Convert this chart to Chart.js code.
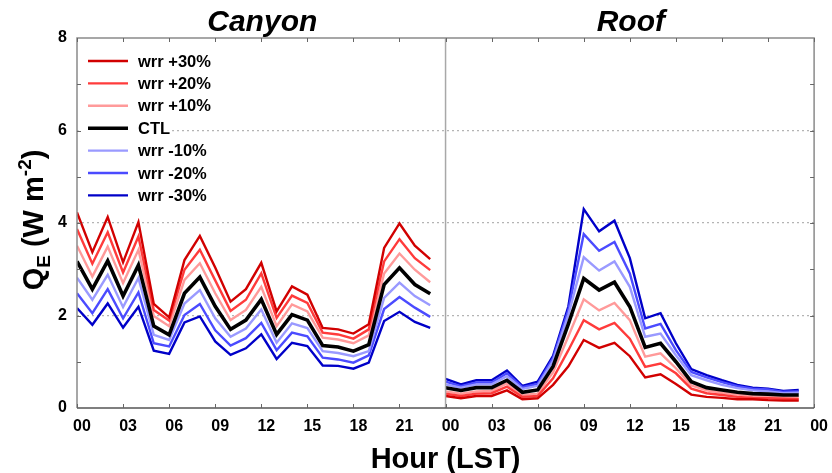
<!DOCTYPE html>
<html>
<head>
<meta charset="utf-8">
<script src="https://cdn.jsdelivr.net/npm/chart.js@4/dist/chart.umd.min.js"></script>
<style>
  html, body { margin: 0; padding: 0; background: #fff; }
  canvas { display: block; }
</style>
</head>
<body>
<canvas id="c" width="832" height="473"></canvas>
<script>
// ---------- data ----------
const hours = [0,1,2,3,4,5,6,7,8,9,10,11,12,13,14,15,16,17,18,19,20,21,22,23];
const panels = ['Canyon', 'Roof'];
const seriesLabels = ['wrr +30%', 'wrr +20%', 'wrr +10%', 'CTL', 'wrr -10%', 'wrr -20%', 'wrr -30%'];
const yTicks = [0, 2, 4, 6, 8];
const xTickStep = 3;

const canyonP30 = [4.23,3.37,4.13,3.15,4.02,2.25,1.96,3.20,3.72,3.04,2.30,2.57,3.14,2.09,2.63,2.45,1.73,1.70,1.61,1.81,3.46,3.99,3.51,3.22];
const canyonP20 = [3.87,3.12,3.80,2.93,3.71,2.12,1.89,2.99,3.42,2.76,2.10,2.34,2.91,1.95,2.43,2.27,1.63,1.59,1.50,1.70,3.17,3.65,3.24,2.98];
const canyonP10 = [3.51,2.84,3.49,2.70,3.42,1.99,1.77,2.77,3.13,2.48,1.90,2.12,2.62,1.77,2.24,2.09,1.52,1.48,1.40,1.57,2.91,3.34,2.99,2.72];
const canyonCTL = [3.17,2.57,3.18,2.42,3.09,1.77,1.58,2.48,2.83,2.20,1.70,1.90,2.35,1.59,2.02,1.90,1.35,1.32,1.23,1.37,2.67,3.03,2.67,2.47];
const canyonM10 = [2.82,2.34,2.88,2.18,2.81,1.58,1.47,2.26,2.55,1.94,1.54,1.72,2.13,1.41,1.83,1.73,1.23,1.19,1.12,1.23,2.38,2.71,2.42,2.22];
const canyonM20 = [2.48,2.05,2.57,1.94,2.50,1.40,1.33,2.01,2.25,1.68,1.35,1.51,1.84,1.25,1.63,1.55,1.09,1.05,0.98,1.14,2.14,2.40,2.17,1.97];
const canyonM30 = [2.16,1.80,2.26,1.74,2.19,1.24,1.17,1.85,1.98,1.44,1.15,1.29,1.59,1.06,1.41,1.34,0.92,0.91,0.85,0.98,1.88,2.08,1.86,1.73];

const roofP30 = [0.26,0.21,0.26,0.26,0.38,0.19,0.21,0.50,0.90,1.47,1.30,1.41,1.12,0.66,0.73,0.52,0.29,0.24,0.22,0.19,0.19,0.17,0.16,0.16];
const roofP20 = [0.31,0.26,0.31,0.32,0.46,0.24,0.26,0.64,1.25,1.90,1.70,1.84,1.50,0.89,0.96,0.75,0.42,0.32,0.28,0.24,0.22,0.21,0.20,0.19];
const roofP10 = [0.36,0.31,0.36,0.37,0.53,0.28,0.31,0.77,1.55,2.35,2.11,2.27,1.90,1.11,1.18,0.86,0.49,0.38,0.33,0.29,0.26,0.25,0.23,0.23];
const roofCTL = [0.44,0.38,0.44,0.44,0.60,0.34,0.39,0.90,1.82,2.80,2.55,2.72,2.19,1.31,1.40,1.00,0.57,0.44,0.39,0.34,0.31,0.30,0.28,0.28];
const roofM10 = [0.51,0.44,0.51,0.51,0.69,0.41,0.48,1.02,2.02,3.26,2.97,3.17,2.62,1.54,1.61,1.14,0.71,0.60,0.50,0.43,0.38,0.36,0.32,0.33];
const roofM20 = [0.57,0.47,0.55,0.55,0.75,0.45,0.52,1.08,2.12,3.76,3.40,3.59,2.91,1.72,1.82,1.25,0.78,0.66,0.56,0.47,0.42,0.40,0.35,0.36];
const roofM30 = [0.63,0.51,0.60,0.60,0.81,0.48,0.57,1.13,2.20,4.30,3.82,4.05,3.24,1.94,2.05,1.40,0.84,0.71,0.60,0.50,0.44,0.42,0.37,0.39];

// ---------- styles ----------
const colors = ['#d10000', '#ff3b3b', '#ff9a9a', '#000000', '#9a9aff', '#4b4bff', '#0000c8'];
const widths = [2.4, 2.4, 2.4, 3.6, 2.4, 2.4, 2.4];
const FONT = '"Liberation Sans", Arial, Helvetica, sans-serif';

const canyonSeries = [canyonP30, canyonP20, canyonP10, canyonCTL, canyonM10, canyonM20, canyonM30];
const roofSeries = [roofP30, roofP20, roofP10, roofCTL, roofM10, roofM20, roofM30];
const dayLen = hours.length;

const datasets = [];
[canyonSeries, roofSeries].forEach((group, p) => {
  group.forEach((vals, i) => {
    datasets.push({
      label: seriesLabels[i],
      panel: p,
      data: hours.map((h, k) => ({ x: h + p * dayLen, y: vals[k] })),
      borderColor: colors[i],
      backgroundColor: colors[i],
      borderWidth: widths[i],
      pointRadius: 0,
      tension: 0,
      fill: false,
      order: i === 3 ? 0 : 1
    });
  });
});

const pad2 = v => String(v % dayLen).padStart(2, '0');

const decorPlugin = {
  id: 'decor',
  afterDatasetsDraw(chart) {
    const { ctx, chartArea: a } = chart;
    ctx.save();
    // legend (inside canyon panel)
    const rowY0 = 61, rowDy = 22.4, lx0 = 88, lx1 = 128, tx = 138;
    ctx.font = 'bold 16.5px ' + FONT;
    ctx.textBaseline = 'middle';
    ctx.textAlign = 'left';
    seriesLabels.forEach((lab, i) => {
      const yy = rowY0 + i * rowDy;
      const w = ctx.measureText(lab).width;
      ctx.fillStyle = '#fff';
      ctx.fillRect(a.left + 1.5, yy - 9, tx + w + 2 - a.left - 1.5, 18);
      ctx.strokeStyle = colors[i];
      ctx.lineWidth = widths[i];
      ctx.beginPath(); ctx.moveTo(lx0, yy); ctx.lineTo(lx1, yy); ctx.stroke();
      ctx.fillStyle = '#000';
      ctx.fillText(lab, tx, yy + 1);
    });
    ctx.restore();
  },
  afterDraw(chart) {
    const { ctx, chartArea: a, scales: { x, y } } = chart;
    ctx.save();
    // divider between panels
    const xd = x.getPixelForValue(dayLen);
    ctx.strokeStyle = '#a8a8a8'; ctx.lineWidth = 1.5;
    ctx.beginPath(); ctx.moveTo(xd, a.top); ctx.lineTo(xd, a.bottom); ctx.stroke();
    // frame
    ctx.strokeStyle = '#8a8a8a'; ctx.lineWidth = 1.5;
    ctx.beginPath();
    ctx.moveTo(a.left, a.bottom); ctx.lineTo(a.left, a.top); ctx.lineTo(a.right, a.top); ctx.lineTo(a.right, a.bottom);
    ctx.stroke();
    ctx.strokeStyle = '#555'; ctx.lineWidth = 1.5;
    ctx.beginPath(); ctx.moveTo(a.left, a.bottom); ctx.lineTo(a.right, a.bottom); ctx.stroke();
    // inward ticks
    ctx.strokeStyle = '#666'; ctx.lineWidth = 1;
    ctx.beginPath();
    for (let v = 0; v <= 2 * dayLen; v += xTickStep) {
      const px = Math.round(x.getPixelForValue(v)) + 0.5;
      ctx.moveTo(px, a.bottom); ctx.lineTo(px, a.bottom - 4);
      ctx.moveTo(px, a.top); ctx.lineTo(px, a.top + 4);
    }
    for (let v = 1; v < 8; v += 1) {
      const py = Math.round(y.getPixelForValue(v)) + 0.5;
      ctx.moveTo(a.left, py); ctx.lineTo(a.left + 4, py);
      ctx.moveTo(a.right, py); ctx.lineTo(a.right - 4, py);
    }
    ctx.stroke();
    // panel titles
    ctx.fillStyle = '#000';
    ctx.font = 'italic bold 30px ' + FONT;
    ctx.textAlign = 'center';
    ctx.textBaseline = 'alphabetic';
    panels.forEach((name, p) => {
      const cx = x.getPixelForValue(p * dayLen + dayLen / 2);
      ctx.fillText(name, cx + 1, 31);
    });
    // x axis title
    ctx.font = 'bold 29px ' + FONT;
    ctx.fillText('Hour (LST)', xd, 468);
    // y axis title with sub/superscript
    const big = 'bold 29px ' + FONT, small = 'bold 19px ' + FONT;
    const parts = [
      { t: 'Q', f: big, dy: 0 },
      { t: 'E', f: small, dy: 7 },
      { t: ' (W m', f: big, dy: 0 },
      { t: '-2', f: small, dy: -12 },
      { t: ')', f: big, dy: 0 }
    ];
    let total = 0;
    parts.forEach(pt => { ctx.font = pt.f; pt.w = ctx.measureText(pt.t).width; total += pt.w; });
    ctx.translate(43, (a.top + a.bottom) / 2 - 3);
    ctx.rotate(-Math.PI / 2);
    ctx.textAlign = 'left';
    let cx = -total / 2;
    parts.forEach(pt => { ctx.font = pt.f; ctx.fillText(pt.t, cx, pt.dy); cx += pt.w; });
    ctx.restore();
  }
};

new Chart(document.getElementById('c'), {
  type: 'line',
  data: { datasets },
  options: {
    responsive: false,
    devicePixelRatio: 1,
    animation: false,
    layout: { padding: { top: 38, right: 15, left: 0, bottom: 0 } },
    plugins: { legend: { display: false }, tooltip: { enabled: false }, title: { display: false } },
    scales: {
      x: {
        type: 'linear',
        min: 0,
        max: 2 * dayLen,
        afterFit: s => { s.height = 65; },
        afterBuildTicks: s => {
          const t = [];
          for (let v = 0; v <= 2 * dayLen; v += xTickStep) t.push({ value: v });
          s.ticks = t;
        },
        ticks: {
          callback: v => pad2(v),
          font: { family: FONT, size: 16, weight: 'bold' },
          color: '#000',
          padding: 9,
          labelOffset: 5,
          maxRotation: 0,
          autoSkip: false
        },
        grid: { display: false, drawTicks: false },
        border: { display: false }
      },
      y: {
        min: 0,
        max: 8,
        afterFit: s => { s.width = 77; },
        afterBuildTicks: s => { s.ticks = yTicks.map(v => ({ value: v })); },
        ticks: {
          font: { family: FONT, size: 16, weight: 'bold' },
          color: '#000',
          padding: 10
        },
        grid: {
          drawTicks: false,
          color: c => (c.tick && c.tick.value > 0 && c.tick.value < 8) ? '#b4b4b4' : 'rgba(0,0,0,0)',
          lineWidth: 1.2,
          borderDash: [2, 3]
        },
        border: { display: false, dash: [2, 3] }
      }
    }
  },
  plugins: [decorPlugin]
});
</script>
</body>
</html>
